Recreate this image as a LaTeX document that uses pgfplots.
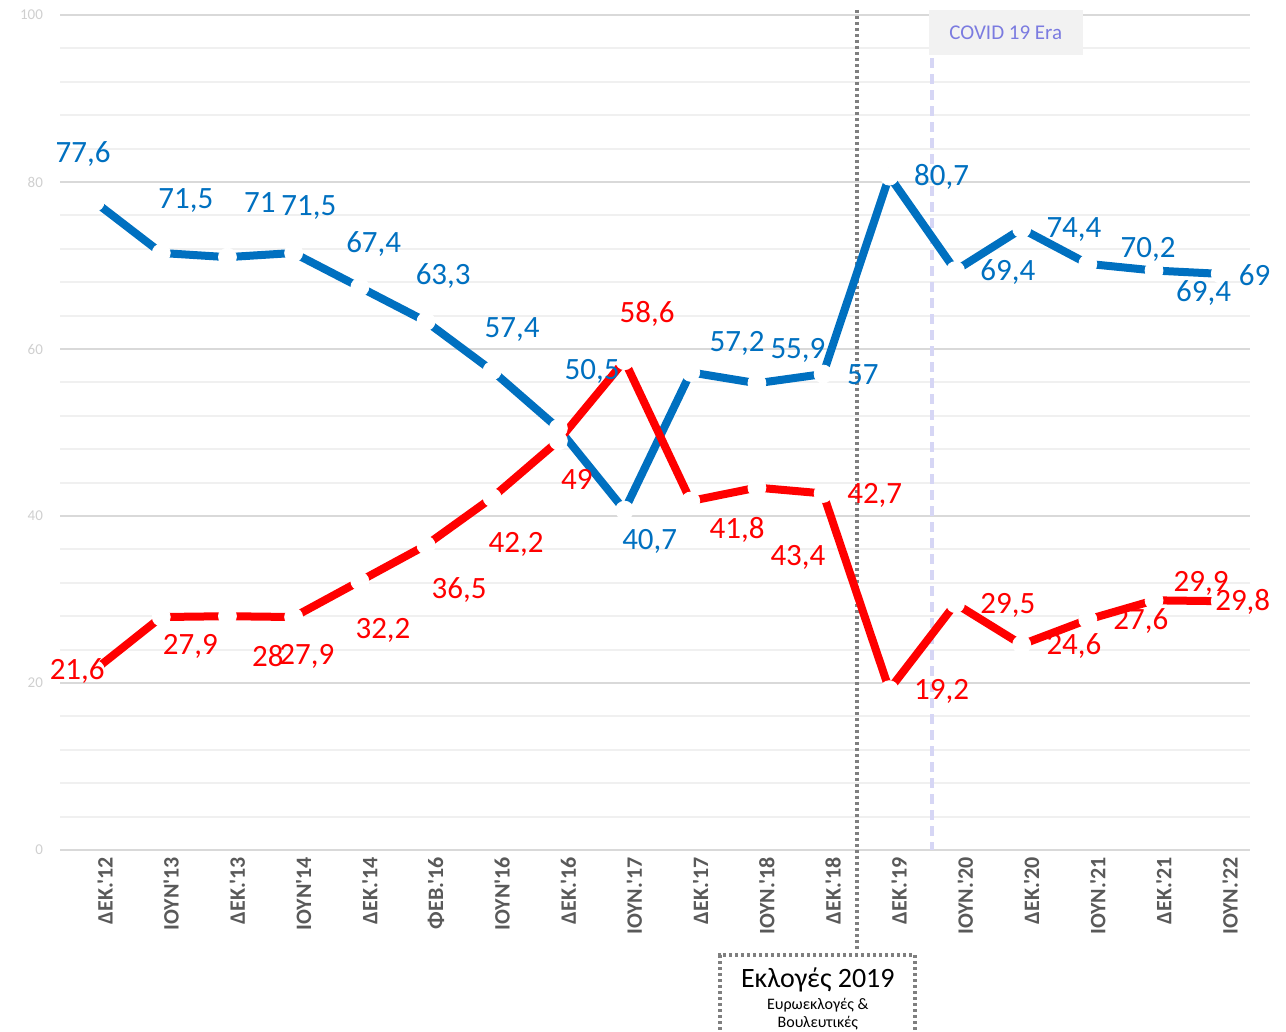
\documentclass[border=0pt]{standalone}
\usepackage{fontspec}
\setmainfont{Carlito}[Ligatures=TeXOff]
\usepackage{pgfplots}
\usepackage{pgfplotstable}
\pgfplotsset{compat=1.18}

\definecolor{sblue}{HTML}{0070C0}
\definecolor{sred}{HTML}{FF0000}
\definecolor{tickgray}{HTML}{595959}
\definecolor{ygray}{HTML}{CFCFCF}
\definecolor{gridmaj}{HTML}{D9D9D9}
\definecolor{gridmin}{HTML}{F0F0F0}
\definecolor{covidline}{HTML}{D6D6F5}
\definecolor{covidtext}{HTML}{7B7BE0}
\definecolor{covidbox}{HTML}{F2F2F2}
\definecolor{dotgray}{HTML}{7F7F7F}

\tikzset{lbl/.style={font=\fontsize{15.5}{16}\selectfont, inner sep=0pt}}

% survey rounds, blue and red shares
\pgfplotstableread{
x  blue  red
0  77.6  21.6
1  71.5  27.9
2  71.0  28.0
3  71.5  27.9
4  67.4  32.2
5  63.3  36.5
6  57.4  42.2
7  50.5  49.0
8  40.7  58.6
9  57.2  41.8
10 55.9  43.4
11 57.0  42.7
12 80.7  19.2
13 69.4  29.5
14 74.4  24.6
15 70.2  27.6
16 69.4  29.9
17 69.0  29.8
}\survey

\begin{document}
\begin{tikzpicture}
\begin{axis}[
    set layers=standard,
    at={(30pt,90.5pt)}, anchor=south west,
    scale only axis, width=595pt, height=417.5pt,
    xmin=-0.53, xmax=17.45, ymin=0, ymax=100,
    ytick={0,20,...,100}, minor y tick num=4,
    ymajorgrids, yminorgrids,
    major grid style={draw=gridmaj, line width=1pt},
    minor grid style={draw=gridmin, line width=1pt},
    axis line style={draw=none},
    major tick length=0pt, minor tick length=0pt,
    xtick={0,...,17},
    xticklabels={ΔΕΚ.'12, ΙΟΥΝ'13, ΔΕΚ.'13, ΙΟΥΝ'14, ΔΕΚ.'14, ΦΕΒ.'16,
        ΙΟΥΝ'16, ΔΕΚ.'16, ΙΟΥΝ.'17, ΔΕΚ.'17, ΙΟΥΝ.'18, ΔΕΚ.'18,
        ΔΕΚ.'19, ΙΟΥΝ.'20, ΔΕΚ.'20, ΙΟΥΝ.'21, ΔΕΚ.'21, ΙΟΥΝ.'22},
    xticklabel style={font=\bfseries\fontsize{11}{12}\selectfont, text=tickgray,
        xshift=5pt, rotate=90, anchor=east},
    yticklabel style={font=\fontsize{7.5}{8}\selectfont, text=ygray, xshift=-5pt},
    /pgf/number format/assume math mode=true,
    clip=false,
]

% election marker and covid marker
\draw[dotgray, line width=2pt, dash pattern=on 1.5pt off 1.5pt]
    (axis cs:11.51,100.6) -- (axis cs:11.51,-12.0);
\draw[covidline, line width=2pt, dash pattern=on 5pt off 3pt]
    (axis cs:12.64,94.8) -- (axis cs:12.64,0);
\fill[covidbox] (axis cs:12.60,100.6) rectangle (axis cs:14.92,95.2);
\node[font=\fontsize{10.5}{12}\selectfont, text=covidtext] at (axis cs:13.76,97.9) {COVID 19 Era};

\draw[dotgray, line width=2pt, dash pattern=on 1.5pt off 1.5pt]
    (axis cs:9.44,-21.5) -- (axis cs:9.44,-12.57) -- (axis cs:12.39,-12.57) -- (axis cs:12.39,-21.5);
\node[font=\fontsize{14}{15}\selectfont] at (axis cs:10.92,-15.6) {Εκλογές 2019};
\node[font=\fontsize{8}{9}\selectfont] at (axis cs:10.92,-18.6) {Ευρωεκλογές \&};
\node[font=\fontsize{8}{9}\selectfont, inner sep=0pt] at (axis cs:10.92,-20.7) {Βουλευτικές};

% lines first, then white markers on top of both
\addplot[sblue, line width=4pt] table[x=x, y=blue] {\survey};
\addplot[sred, line width=4pt] table[x=x, y=red] {\survey};
\addplot[only marks, mark=*, mark size=4.5pt, color=white] table[x=x, y=blue] {\survey};
\addplot[only marks, mark=*, mark size=4.5pt, color=white] table[x=x, y=red] {\survey};

\begin{pgfonlayer}{axis foreground}
% blue labels
\node[lbl, text=sblue] at (axis cs:-0.18,83.35) {77,6};
\node[lbl, text=sblue] at (axis cs:1.37,77.84) {71,5};
\node[lbl, text=sblue] at (axis cs:2.49,77.49) {71};
\node[lbl, text=sblue] at (axis cs:3.23,76.89) {71,5};
\node[lbl, text=sblue] at (axis cs:4.21,72.57) {67,4};
\node[lbl, text=sblue] at (axis cs:5.26,68.74) {63,3};
\node[lbl, text=sblue] at (axis cs:6.30,62.28) {57,4};
\node[lbl, text=sblue] at (axis cs:7.51,57.37) {50,5};
\node[lbl, text=sblue] at (axis cs:8.38,37.01) {40,7};
\node[lbl, text=sblue] at (axis cs:9.70,60.72) {57,2};
\node[lbl, text=sblue] at (axis cs:10.62,59.88) {55,9};
\node[lbl, text=sblue] at (axis cs:11.60,56.89) {57};
\node[lbl, text=sblue] at (axis cs:12.79,80.60) {80,7};
\node[lbl, text=sblue] at (axis cs:13.79,69.22) {69,4};
\node[lbl, text=sblue] at (axis cs:14.79,74.25) {74,4};
\node[lbl, text=sblue] at (axis cs:15.91,71.98) {70,2};
\node[lbl, text=sblue] at (axis cs:16.75,66.71) {69,4};
\node[lbl, text=sblue] at (axis cs:17.52,68.86) {69};

% red labels
\node[lbl, text=sred] at (axis cs:-0.27,21.44) {21,6};
\node[lbl, text=sred] at (axis cs:1.44,24.43) {27,9};
\node[lbl, text=sred] at (axis cs:2.61,23.23) {28};
\node[lbl, text=sred] at (axis cs:3.20,23.23) {27,9};
\node[lbl, text=sred] at (axis cs:4.35,26.35) {32,2};
\node[lbl, text=sred] at (axis cs:5.50,31.14) {36,5};
\node[lbl, text=sred] at (axis cs:6.36,36.65) {42,2};
\node[lbl, text=sred] at (axis cs:7.28,44.43) {49};
\node[lbl, text=sred] at (axis cs:8.34,64.19) {58,6};
\node[lbl, text=sred] at (axis cs:9.70,38.32) {41,8};
\node[lbl, text=sred] at (axis cs:10.62,35.09) {43,4};
\node[lbl, text=sred] at (axis cs:11.78,42.51) {42,7};
\node[lbl, text=sred] at (axis cs:12.79,19.04) {19,2};
\node[lbl, text=sred] at (axis cs:13.79,29.34) {29,5};
\node[lbl, text=sred] at (axis cs:14.79,24.43) {24,6};
\node[lbl, text=sred] at (axis cs:15.80,27.43) {27,6};
\node[lbl, text=sred] at (axis cs:16.71,31.98) {29,9};
\node[lbl, text=sred] at (axis cs:17.34,29.70) {29,8};
\end{pgfonlayer}

\end{axis}
\path (0,0) rectangle (643pt,515.5pt);
\end{tikzpicture}
\end{document}
